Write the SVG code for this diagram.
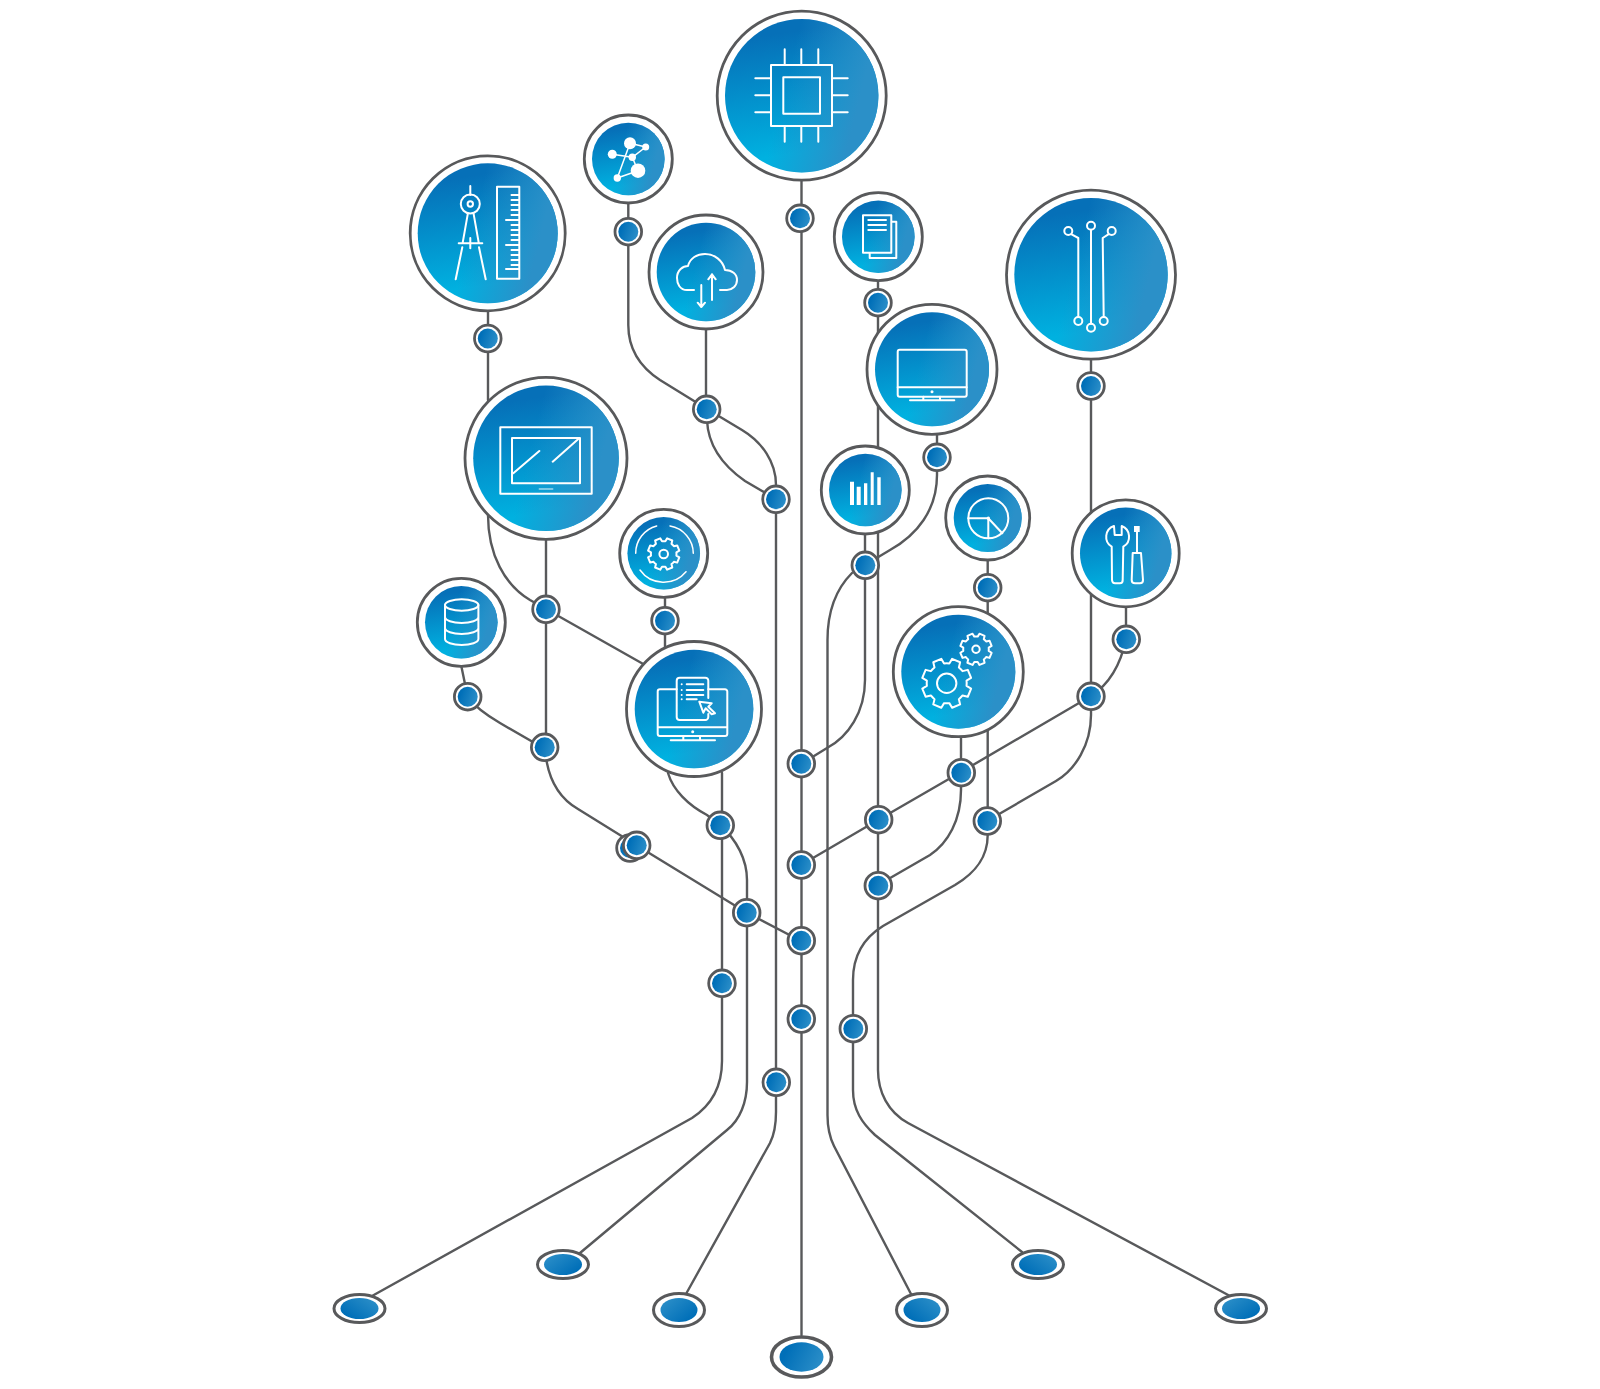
<svg xmlns="http://www.w3.org/2000/svg" width="1600" height="1389" viewBox="0 0 1600 1389">
<style>
.bg{fill:#fff}
.l{fill:none;stroke:#58595b;stroke-width:2.4;stroke-linecap:round}
.r{fill:#fff;stroke:#58595b;stroke-width:2.8}
.rf{fill:#fff;stroke:#58595b;stroke-width:3}
.b{fill:url(#gb)}
.o{fill:url(#go)}
.d{fill:url(#gs)}
.i{fill:none;stroke:#fff;stroke-width:2;stroke-linejoin:round;stroke-linecap:round}
.t{stroke-width:1.5}
.w{fill:#fff;stroke:none}
.n{vector-effect:non-scaling-stroke}
</style>
<defs>
<linearGradient id="gb" x1=".3" y1="0" x2=".45" y2="1"><stop offset=".1" stop-color="#0670b8"/><stop offset=".88" stop-color="#00b1e0"/></linearGradient>
<linearGradient id="go" x1=".4" y1=".4" x2="1" y2=".55"><stop offset="0" stop-color="#2b90c8" stop-opacity="0"/><stop offset=".8" stop-color="#2b90c8"/></linearGradient>
<linearGradient id="gs" x1=".05" y1=".3" x2="1" y2=".6"><stop offset=".1" stop-color="#006fb8"/><stop offset="1" stop-color="#2b8ec8"/></linearGradient>
<linearGradient id="gl" x1=".05" y1=".85" x2=".95" y2=".15"><stop offset=".1" stop-color="#006fb8"/><stop offset="1" stop-color="#2b8ec8"/></linearGradient>
<linearGradient id="gr" x1=".95" y1=".85" x2=".05" y2=".15"><stop offset=".1" stop-color="#006fb8"/><stop offset="1" stop-color="#2b8ec8"/></linearGradient>
<path id="gear" class="n" d="M69.3,40L81.9,57.4L57.4,81.9L40,69.3A80,80 0 0 1 20.7,77.3L17.4,98.5L-17.4,98.5L-20.7,77.3A80,80 0 0 1 -40,69.3L-57.4,81.9L-81.9,57.4L-69.3,40A80,80 0 0 1 -77.3,20.7L-98.5,17.4L-98.5,-17.4L-77.3,-20.7A80,80 0 0 1 -69.3,-40L-81.9,-57.4L-57.4,-81.9L-40,-69.3A80,80 0 0 1 -20.7,-77.3L-17.4,-98.5L17.4,-98.5L20.7,-77.3A80,80 0 0 1 40,-69.3L57.4,-81.9L81.9,-57.4L69.3,-40A80,80 0 0 1 77.3,-20.7L98.5,-17.4L98.5,17.4L77.3,20.7A80,80 0 0 1 69.3,40Z"/>
</defs>
<rect class="bg" width="1600" height="1389"/>
<g id="connectors">
<path class="l" d="M801.5,180V1335"/>
<path class="l" d="M628.3,200V325C628.3,350 640,367 660,380L707,409L742,430C762,442 776,462 776,485V1112C776,1125 774,1135 770,1143L686,1294"/>
<path class="l" d="M706,330V409M707,420C708,445 722,465 745,481L776,499"/>
<path class="l" d="M488,310V400M488,515C488,555 505,585 530,600L645,665"/>
<path class="l" d="M546,530V747"/>
<path class="l" d="M461.5,667L467.7,697C476,708 488,716 500,723L545,749C547,775 557,797 578,809L636,845L746.7,912.7L801,941"/>
<path class="l" d="M668,773C673,790 688,805 707,815L720,825"/>
<path class="l" d="M722,773V1061C722,1085 712,1105 692,1118L372,1296"/>
<path class="l" d="M720,825C737,840 747,860 747,880V1082C747,1102 740,1120 727,1130L580,1253"/>
<path class="l" d="M852,573C835,590 827.5,612 827.5,640V1115C827.5,1128 830,1138 834,1146L911,1294"/>
<path class="l" d="M865,530V680C865,712 848,737 827,748L801,764"/>
<path class="l" d="M878,280V1070C878,1092 888,1112 908,1123L1230,1296"/>
<path class="l" d="M937,430V475C937,510 917,535 890,550L865,565"/>
<path class="l" d="M1091,696L961,772L878,820L801,865"/>
<path class="l" d="M1091,360V715C1091,745 1075,770 1056,781L987,821"/>
<path class="l" d="M1126,605V639C1120,668 1108,685 1091,696"/>
<path class="l" d="M987.7,560V835C987.7,858 975,873 955,885L883,926C862,939 853,958 853,980V1090C853,1110 862,1123 875,1135L1022,1252"/>
<path class="l" d="M961,735V790C961,820 948,843 930,855L878,885"/>
<path class="l" d="M665,595V650"/>
</g>
<g id="foot-1"><ellipse class="rf" cx="359.5" cy="1308.500" rx="25.500" ry="14"/><ellipse cx="359.5" cy="1308.500" rx="19" ry="10.500" fill="url(#gl)"/></g>
<g id="foot-2"><ellipse class="rf" cx="563" cy="1264.500" rx="25.500" ry="14"/><ellipse cx="563" cy="1264.500" rx="19" ry="10.500" fill="url(#gr)"/></g>
<g id="foot-3"><ellipse class="rf" cx="679" cy="1310" rx="25.500" ry="16.500"/><ellipse cx="679" cy="1310" rx="18.500" ry="12" fill="url(#gr)"/></g>
<g id="foot-4"><ellipse class="rf" cx="801.500" cy="1357" rx="30" ry="20" style="stroke-width:3.600"/><ellipse cx="801.500" cy="1357" rx="22" ry="14.700" fill="url(#gs)"/></g>
<g id="foot-5"><ellipse class="rf" cx="922" cy="1310" rx="25.500" ry="16.500"/><ellipse cx="922" cy="1310" rx="18.500" ry="12" fill="url(#gl)"/></g>
<g id="foot-6"><ellipse class="rf" cx="1038" cy="1264.500" rx="25.500" ry="14"/><ellipse cx="1038" cy="1264.500" rx="19" ry="10.500" fill="url(#gl)"/></g>
<g id="foot-7"><ellipse class="rf" cx="1241" cy="1308.500" rx="25.500" ry="14"/><ellipse cx="1241" cy="1308.500" rx="19" ry="10.500" fill="url(#gr)"/></g>

<g id="chip">
<circle class="r" cx="801.700" cy="95.700" r="84.500"/><circle class="b" cx="801.700" cy="95.700" r="76.700"/><circle class="o" cx="801.700" cy="95.700" r="76.700"/>
<path class="i" d="M771,65H832V126H771ZM783.300,77.300H820V113.700H783.300ZM784.700,49.300V65M801.300,49.300V65M818.300,49.300V65M784.700,126V141.700M801.300,126V141.700M818.300,126V141.700M755.300,78.300H771M755.300,95.300H771M755.300,112.300H771M832,78.300H847.700M832,95.300H847.700M832,112.300H847.700"/>
</g>
<g id="network">
<circle class="r" cx="628.300" cy="159" r="44"/><circle class="b" cx="628.300" cy="159" r="36.300"/><circle class="o" cx="628.300" cy="159" r="36.300"/>
<path class="i t" d="M612.300,154.300L632.300,157.300M630,143.300L617.300,178M630,143.300L645.700,147L632.300,157.300L638,170.700L617.300,178"/>
<circle class="w" cx="630" cy="143.300" r="6"/><circle class="w" cx="645.700" cy="147" r="3.500"/><circle class="w" cx="612.300" cy="154.300" r="4.500"/><circle class="w" cx="632.300" cy="157.300" r="3.700"/><circle class="w" cx="638" cy="170.700" r="7.300"/><circle class="w" cx="617.300" cy="178" r="3.700"/>
</g>
<g id="compass">
<circle class="r" cx="487.700" cy="233.300" r="77.500"/><circle class="b" cx="487.700" cy="233.300" r="70"/><circle class="o" cx="487.700" cy="233.300" r="70"/>
<path class="i" d="M497,186.700H519.300V278.700H497ZM511.500,195H519M511.500,200H519M506,220H519M511.500,205H519M511.500,210H519M511.500,215H519M511.500,225H519M511.500,230H519M511.500,235H519M511.500,240H519M506,245H519M511.500,250H519M511.500,255H519M511.500,260H519M511.500,265H519M506,269H519"/>
<path class="i" d="M470.300,186V195M467.700,214.300L462.700,242.700M473.700,214.300L478.700,242.700M458.700,243.300H482.300M470.300,238V248.300M462.300,247.300L455.700,279.300M479,247.300L485.700,279.300"/>
<circle class="i" cx="470.300" cy="204" r="9.500"/><circle class="i" cx="470.300" cy="204" r="2.700"/>
</g>
<g id="cloud">
<circle class="r" cx="706" cy="272" r="57"/><circle class="b" cx="706" cy="272" r="49.300"/><circle class="o" cx="706" cy="272" r="49.300"/>
<path class="i" d="M694,290H687C680,290 677,284 677,278C677,270 683,266 688,266C690,258 697,254 705,254C715,254 723,261 725,270C732,270 737,274 737,280C737,286 732,290 727,290H720M701.300,285V307M697.700,302.700L701.300,307L705,302.700M712,300V274.300M708.300,279.300L712,274.300L715.700,279.300"/>
</g>
<g id="docs">
<circle class="r" cx="878.300" cy="236.700" r="44"/><circle class="b" cx="878.300" cy="236.700" r="36.300"/><circle class="o" cx="878.300" cy="236.700" r="36.300"/>
<path class="i" d="M863,215.300H891.300V252.700H863ZM891.300,221.700H896.300V258H869.700V252.700M868.300,220H886M868.300,225H886M868.300,230H886"/>
</g>
<g id="circuit">
<circle class="r" cx="1091" cy="274.700" r="84.500"/><circle class="b" cx="1091" cy="274.700" r="76.700"/><circle class="o" cx="1091" cy="274.700" r="76.700"/>
<path class="i" d="M1071.600,234.300L1078.300,238V317M1091,229.700V323.700M1108.300,234.300L1102.700,238L1103.700,317"/>
<circle class="i" cx="1068.300" cy="231" r="4"/><circle class="i" cx="1091" cy="225.700" r="4"/><circle class="i" cx="1111.700" cy="231" r="4"/><circle class="i" cx="1078.300" cy="321" r="4"/><circle class="i" cx="1091" cy="327.700" r="4"/><circle class="i" cx="1103.700" cy="321" r="4"/>
</g>
<g id="monitor">
<circle class="r" cx="932" cy="369.300" r="65"/><circle class="b" cx="932" cy="369.300" r="57"/><circle class="o" cx="932" cy="369.300" r="57"/>
<rect class="i" x="897.700" y="349.700" width="69" height="47" rx="2"/>
<path class="i" d="M897.700,387.300H966.700M923.300,396.700V400.300M940,396.700V400.300M910,400.300H954.300"/>
<circle class="w" cx="932" cy="391.700" r="1.500"/>
</g>
<g id="tablet">
<circle class="r" cx="546" cy="458.300" r="81"/><circle class="b" cx="546" cy="458.300" r="72.800"/><circle class="o" cx="546" cy="458.300" r="72.800"/>
<path class="i" d="M500.300,427.300H591.700V493.700H500.300ZM512,438H580V483.300H512ZM513.300,473.300L539.300,451M552.700,461.700L578.300,439"/>
<path class="i t" d="M539.300,489H552.700" stroke-opacity=".6"/>
</g>
<g id="gear-cycle">
<circle class="r" cx="663.700" cy="553.300" r="44"/><circle class="b" cx="663.700" cy="553.300" r="36.300"/><circle class="o" cx="663.700" cy="553.300" r="36.300"/>
<use href="#gear" class="i" transform="translate(663.700 554) rotate(22.500) scale(.16)"/>
<circle class="i" cx="663.700" cy="554" r="4.300"/>
<path class="i t" d="M635.700,553.300A28,28 0 0 1 656.700,526M670,526A28,28 0 0 1 693.300,553.300M640,570A29,29 0 0 0 686,571.700"/>
</g>
<g id="database">
<circle class="r" cx="461.300" cy="622.300" r="44"/><circle class="b" cx="461.300" cy="622.300" r="36.300"/><circle class="o" cx="461.300" cy="622.300" r="36.300"/>
<ellipse class="i" cx="461.700" cy="605" rx="16.700" ry="5.700"/>
<path class="i" d="M445,605V639A16.700,6 0 0 0 478.400,639V605M445,617A16.700,6 0 0 0 478.400,617M445,628A16.700,6 0 0 0 478.400,628"/>
</g>
<g id="laptop-list">
<circle class="r" cx="694" cy="709" r="67.500"/><circle class="b" cx="694" cy="709" r="59.300"/><circle class="o" cx="694" cy="709" r="59.300"/>
<path class="i" d="M676.700,689.300H660A2.300,2.300 0 0 0 657.700,691.600V733.700A2.300,2.300 0 0 0 660,736H725A2.300,2.300 0 0 0 727.300,733.700V691.600A2.300,2.300 0 0 0 725,689.300H708.300M657.700,727.300H727.300M683.300,736V740.300M700,736V740.300M670.700,740.300H715"/>
<path class="i" d="M708.300,698V680.700A3,3 0 0 0 705.300,677.700H679.700A3,3 0 0 0 676.700,680.700V717A3,3 0 0 0 679.700,720H705.300A3,3 0 0 0 708.300,717V714M686.700,684.300H703.300M686.700,690H703.300M686.700,695H703.300M686.700,699.300H696.700M699.300,701.700L711.700,703.300L708.300,706.700L715,713.300L711.700,714.300L705.700,708.300L703.300,712.700Z"/>
<circle class="w" cx="692.700" cy="731.700" r="1.500"/><circle class="w" cx="681.700" cy="684.300" r="1"/><circle class="w" cx="681.700" cy="690" r="1"/><circle class="w" cx="681.700" cy="695" r="1"/><circle class="w" cx="681.700" cy="699.300" r="1"/>
</g>
<g id="bars">
<circle class="r" cx="865.300" cy="490" r="44"/><circle class="b" cx="865.300" cy="490" r="36.300"/><circle class="o" cx="865.300" cy="490" r="36.300"/>
<path class="w" d="M850,481.700H854V505H850ZM856.700,486.700H860.700V505H856.700ZM864,483.300H867.300V505H864ZM870.700,472.300H873.700V505H870.700ZM877.300,477.300H880.700V505H877.300Z"/>
</g>
<g id="pie">
<circle class="r" cx="987.700" cy="518" r="42"/><circle class="b" cx="987.700" cy="518" r="34"/><circle class="o" cx="987.700" cy="518" r="34"/>
<circle class="i" cx="988.300" cy="518.300" r="20"/>
<path class="i" d="M968.300,518.300H988.300V538.300M988.300,518.300L1002.300,533.300"/>
<circle class="w" cx="988.300" cy="518.300" r="1.700"/>
</g>
<g id="tools">
<circle class="r" cx="1125.700" cy="553.300" r="53.500"/><circle class="b" cx="1125.700" cy="553.300" r="45.700"/><circle class="o" cx="1125.700" cy="553.300" r="45.700"/>
<path class="i" d="M1114,526A11.500,11.500 0 0 0 1111.700,546.700L1112,580Q1112.300,583.300 1115,583.300H1120Q1122.700,583.300 1122.700,580L1123.300,546.700A11.500,11.500 0 0 0 1121.700,526V535H1114.700Z"/>
<path class="i" d="M1132.700,553L1131.700,580Q1131.700,583.300 1135,583.300H1140Q1143,583.300 1143,580L1141,553ZM1137,532V553"/>
<path class="w" d="M1134,526H1139.700V532H1134Z"/>
</g>
<g id="gears">
<circle class="r" cx="958.300" cy="671.700" r="65"/><circle class="b" cx="958.300" cy="671.700" r="57"/><circle class="o" cx="958.300" cy="671.700" r="57"/>
<use href="#gear" class="i" transform="translate(946.700 683.300) rotate(22.500) scale(.25)"/>
<circle class="i" cx="946.700" cy="683.300" r="9.700"/>
<use href="#gear" class="i" transform="translate(976 649.300) rotate(22.500) scale(.16)"/>
<circle class="i" cx="976" cy="649.300" r="3.700"/>
</g>

<g id="dots">
<g id="dot-1"><circle class="r" cx="800" cy="218.300" r="13.300"/><circle class="d" cx="800" cy="218.300" r="10"/></g>
<g id="dot-2"><circle class="r" cx="628.300" cy="231.700" r="13.300"/><circle class="d" cx="628.300" cy="231.700" r="10"/></g>
<g id="dot-3"><circle class="r" cx="878" cy="302.700" r="13.300"/><circle class="d" cx="878" cy="302.700" r="10"/></g>
<g id="dot-4"><circle class="r" cx="487.800" cy="338.500" r="13.300"/><circle class="d" cx="487.800" cy="338.500" r="10"/></g>
<g id="dot-5"><circle class="r" cx="1091" cy="386" r="13.300"/><circle class="d" cx="1091" cy="386" r="10"/></g>
<g id="dot-6"><circle class="r" cx="937" cy="457.300" r="13.300"/><circle class="d" cx="937" cy="457.300" r="10"/></g>
<g id="dot-7"><circle class="r" cx="706.700" cy="409.300" r="13.300"/><circle class="d" cx="706.700" cy="409.300" r="10"/></g>
<g id="dot-8"><circle class="r" cx="776" cy="499.300" r="13.300"/><circle class="d" cx="776" cy="499.300" r="10"/></g>
<g id="dot-9"><circle class="r" cx="546" cy="609.300" r="13.300"/><circle class="d" cx="546" cy="609.300" r="10"/></g>
<g id="dot-10"><circle class="r" cx="665" cy="620.700" r="13.300"/><circle class="d" cx="665" cy="620.700" r="10"/></g>
<g id="dot-11"><circle class="r" cx="467.700" cy="696.700" r="13.300"/><circle class="d" cx="467.700" cy="696.700" r="10"/></g>
<g id="dot-12"><circle class="r" cx="544.700" cy="747.300" r="13.300"/><circle class="d" cx="544.700" cy="747.300" r="10"/></g>
<g id="dot-13"><circle class="r" cx="865.300" cy="565.300" r="13.300"/><circle class="d" cx="865.300" cy="565.300" r="10"/></g>
<g id="dot-14"><circle class="r" cx="987.700" cy="587.700" r="13.300"/><circle class="d" cx="987.700" cy="587.700" r="10"/></g>
<g id="dot-15"><circle class="r" cx="1126.300" cy="639.300" r="13.300"/><circle class="d" cx="1126.300" cy="639.300" r="10"/></g>
<g id="dot-16"><circle class="r" cx="1091" cy="696.300" r="13.300"/><circle class="d" cx="1091" cy="696.300" r="10"/></g>
<g id="dot-17"><circle class="r" cx="720.300" cy="825.300" r="13.300"/><circle class="d" cx="720.300" cy="825.300" r="10"/></g>
<g id="dot-18"><circle class="r" cx="630" cy="848" r="13.300"/><circle class="d" cx="630" cy="848" r="10"/></g>
<g id="dot-19"><circle class="r" cx="636.700" cy="845.300" r="13.300"/><circle class="d" cx="636.700" cy="845.300" r="10"/></g>
<g id="dot-20"><circle class="r" cx="746.700" cy="912.700" r="13.300"/><circle class="d" cx="746.700" cy="912.700" r="10"/></g>
<g id="dot-21"><circle class="r" cx="722" cy="983.300" r="13.300"/><circle class="d" cx="722" cy="983.300" r="10"/></g>
<g id="dot-22"><circle class="r" cx="801.300" cy="763.700" r="13.300"/><circle class="d" cx="801.300" cy="763.700" r="10"/></g>
<g id="dot-23"><circle class="r" cx="801.300" cy="865" r="13.300"/><circle class="d" cx="801.300" cy="865" r="10"/></g>
<g id="dot-24"><circle class="r" cx="801.300" cy="940.700" r="13.300"/><circle class="d" cx="801.300" cy="940.700" r="10"/></g>
<g id="dot-25"><circle class="r" cx="801.300" cy="1019" r="13.300"/><circle class="d" cx="801.300" cy="1019" r="10"/></g>
<g id="dot-26"><circle class="r" cx="776.300" cy="1082.300" r="13.300"/><circle class="d" cx="776.300" cy="1082.300" r="10"/></g>
<g id="dot-27"><circle class="r" cx="878.700" cy="819.700" r="13.300"/><circle class="d" cx="878.700" cy="819.700" r="10"/></g>
<g id="dot-28"><circle class="r" cx="878.300" cy="885.700" r="13.300"/><circle class="d" cx="878.300" cy="885.700" r="10"/></g>
<g id="dot-29"><circle class="r" cx="961.300" cy="772.700" r="13.300"/><circle class="d" cx="961.300" cy="772.700" r="10"/></g>
<g id="dot-30"><circle class="r" cx="987.300" cy="821" r="13.300"/><circle class="d" cx="987.300" cy="821" r="10"/></g>
<g id="dot-31"><circle class="r" cx="853.300" cy="1028.700" r="13.300"/><circle class="d" cx="853.300" cy="1028.700" r="10"/></g>
</g>
</svg>
